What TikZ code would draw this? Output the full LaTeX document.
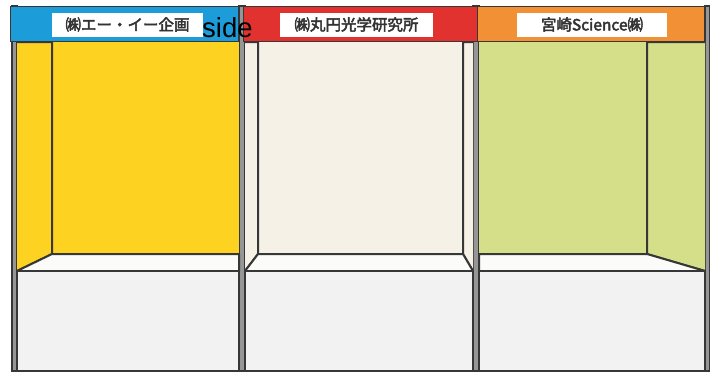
\documentclass[tikz,border=0pt]{standalone}
\usepackage{fontspec}
\setmainfont{Liberation Sans}
\newfontfamily\jpfont{Noto Sans CJK JP}[FakeBold=3]

\definecolor{hdrblue}{RGB}{28,156,216}
\definecolor{hdrred}{RGB}{226,50,48}
\definecolor{hdrorange}{RGB}{242,144,54}
\definecolor{wallyellow}{RGB}{253,210,32}
\definecolor{wallcream}{RGB}{245,241,230}
\definecolor{wallgreen}{RGB}{213,222,137}
\definecolor{floorwhite}{RGB}{251,251,249}
\definecolor{panelgray}{RGB}{242,242,242}
\definecolor{edgegray}{RGB}{55,55,55}
\definecolor{postgray}{RGB}{150,150,150}

\begin{document}
\begin{tikzpicture}[
    x=1pt, y=-1pt,
    wall/.style={draw=edgegray, line width=2pt, line join=round},
    panel/.style={fill=panelgray, draw=edgegray, line width=2pt},
    post/.style={fill=postgray, draw=edgegray, line width=1.5pt},
    header/.style={draw=edgegray, line width=1pt},
    namebox/.style={fill=white, minimum height=24pt, inner sep=0pt,
                    font=\jpfont\fontsize{15.5}{15.5}\selectfont, text=black!80},
  ]
    \useasboundingbox (0,0) rectangle (710,373);
    \fill[white] (0,0) rectangle (710,373);

    % posts
    \draw[post] (12,6) rectangle (17,371);
    \draw[post] (239,6) rectangle (245,371);
    \draw[post] (473,6) rectangle (479,371);
    \draw[post] (705,6) rectangle (710,371);

    % booth 1
    \fill[wallyellow] (52,42) rectangle (239,254);
    \draw[wall, fill=wallyellow] (17,42) -- (52,42) -- (52,254) -- (17,271);
    \draw[wall, fill=floorwhite] (17,271) -- (52,254) -- (239,254) -- (239,271);
    \draw[panel] (17,271) rectangle (239,371);

    % booth 2
    \fill[wallcream] (258,42) rectangle (463,254);
    \draw[wall, fill=wallcream] (245,42) -- (258,42) -- (258,254) -- (245,271);
    \draw[wall, fill=wallcream] (473,42) -- (463,42) -- (463,254) -- (473,271);
    \draw[wall, fill=floorwhite] (245,271) -- (258,254) -- (463,254) -- (473,271);
    \draw[panel] (245,271) rectangle (473,371);

    % booth 3
    \fill[wallgreen] (479,42) rectangle (647,254);
    \draw[wall, fill=wallgreen] (705,42) -- (647,42) -- (647,254) -- (705,271);
    \draw[wall, fill=floorwhite] (479,271) -- (479,254) -- (647,254) -- (705,271);
    \draw[panel] (479,271) rectangle (705,371);

    % headers
    \draw[header, fill=hdrblue] (10,6) rectangle (238,41);
    \draw[header, fill=hdrred] (243,6) rectangle (477,41);
    \draw[header, fill=hdrorange] (477,6) rectangle (704,41);

    \node[namebox, minimum width=151pt] (nameA) at (127.5,24.5) {㈱エー・イー企画};
    \node[namebox, minimum width=153pt] (nameB) at (356.5,24.5) {㈱丸円光学研究所};
    \node[namebox, minimum width=150pt] (nameC) at (592,24.5) {宮崎Science㈱};

    \node[anchor=base west, inner sep=0pt, font=\fontsize{27.5}{27.5}\selectfont]
      (sidelabel) at (202,37) {side};
  \end{tikzpicture}
\end{document}
